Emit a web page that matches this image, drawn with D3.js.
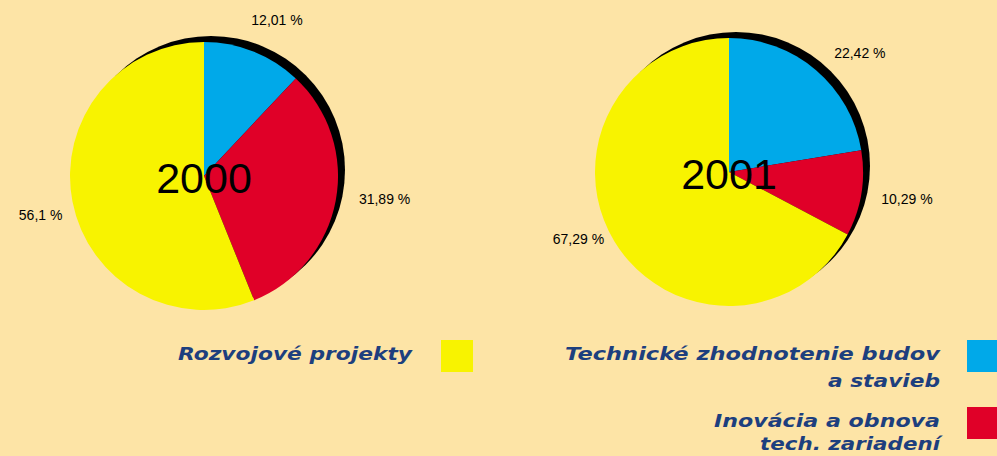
<!DOCTYPE html>
<html>
<head>
<meta charset="utf-8">
<script src="https://cdn.jsdelivr.net/npm/d3@7/dist/d3.min.js"></script>
<style>
  html, body { margin: 0; padding: 0; background: #fde4a6; }
  svg { display: block; }
</style>
</head>
<body>
<svg id="chart" width="997" height="456"></svg>
<script>
// data
const years = ["2000", "2001"];
const categories = ["Technické zhodnotenie budov a stavieb", "Inovácia a obnova tech. zariadení", "Rozvojové projekty"];
const values2000 = [12.01, 31.89, 56.1];
const values2001 = [22.42, 10.29, 67.29];
const labels2000 = ["12,01 %", "31,89 %", "56,1 %"];
const labels2001 = ["22,42 %", "10,29 %", "67,29 %"];
const colors = ["#00a9e9", "#e00028", "#f8f300"];

const svg = d3.select("#chart");
const r = 134;
const centers = [[204, 176], [729, 172]];
const series = [values2000, values2001];
const labelSets = [labels2000, labels2001];
// small angle (deg) / distance tweaks so labels sit where the original had them
const labelNudge = [
  [{ a: 3.5, d: 172 }, { a: -3.5, d: 182 }, { a: -2.5, d: 168 }],
  [{ a: 7.3, d: 177 }, { a: -0.6, d: 180 }, { a: 7, d: 165 }]
];

const pie = d3.pie().sort(null).value(d => d);
const arc = d3.arc().innerRadius(0).outerRadius(r);

years.forEach((yr, i) => {
  const g = svg.append("g")
    .attr("transform", `translate(${centers[i][0]},${centers[i][1]})`);

  // black "shadow" disc behind the pie
  g.append("circle")
    .attr("cx", 7).attr("cy", -6).attr("r", r)
    .attr("fill", "#000");

  const arcs = pie(series[i]);
  g.selectAll("path.slice").data(arcs).join("path")
    .attr("class", "slice")
    .attr("d", arc)
    .attr("fill", (d, j) => colors[j]);

  g.selectAll("text.pct").data(arcs).join("text")
    .attr("class", "pct")
    .attr("transform", (d, j) => {
      const n = labelNudge[i][j];
      const ang = (d.startAngle + d.endAngle) / 2 + n.a * Math.PI / 180;
      return `translate(${n.d * Math.sin(ang)},${-n.d * Math.cos(ang)})`;
    })
    .attr("text-anchor", "middle")
    .attr("dy", "0.35em")
    .attr("font-family", "Liberation Sans, Arial, sans-serif")
    .attr("font-size", 14)
    .text((d, j) => labelSets[i][j]);

  g.append("text")
    .attr("x", 0).attr("y", 2)
    .attr("text-anchor", "middle")
    .attr("dy", "0.35em")
    .attr("font-family", "Liberation Sans, Arial, sans-serif")
    .attr("font-size", 43)
    .text(yr);
});

// legend
const legendFont = "DejaVu Sans, Verdana, sans-serif";
const legend = [
  { lines: ["Rozvojové projekty"], widths: [234], x: 412, y: 360, gap: 27, color: colors[2], sq: [441, 340] },
  { lines: ["Technické zhodnotenie budov", "a stavieb"], widths: [375, 112], x: 940, y: 360, gap: 27, color: colors[0], sq: [967, 340] },
  { lines: ["Inovácia a obnova", "tech. zariadení"], widths: [226, 180], x: 940, y: 427, gap: 23, color: colors[1], sq: [967, 407] }
];

legend.forEach(l => {
  l.lines.forEach((t, k) => {
    svg.append("text")
      .attr("x", l.x).attr("y", l.y + k * l.gap)
      .attr("text-anchor", "end")
      .attr("font-family", legendFont)
      .attr("font-weight", "bold")
      .attr("font-style", "italic")
      .attr("font-size", 17)
      .attr("fill", "#1d3f7e")
      .attr("textLength", l.widths[k])
      .attr("lengthAdjust", "spacingAndGlyphs")
      .text(t);
  });
  svg.append("rect")
    .attr("x", l.sq[0]).attr("y", l.sq[1])
    .attr("width", 32).attr("height", 32)
    .attr("fill", l.color);
});
</script>
</body>
</html>
